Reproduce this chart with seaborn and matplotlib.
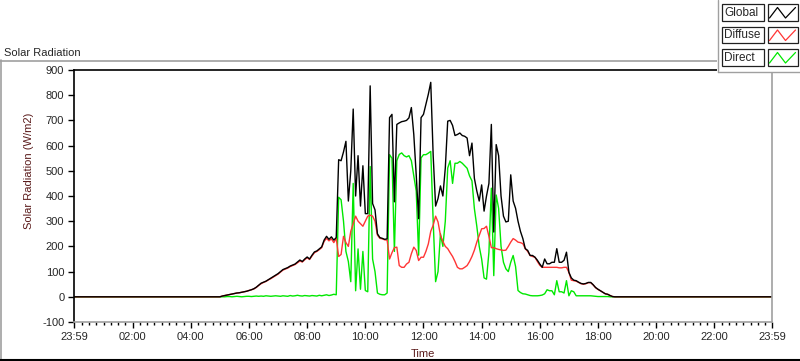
import matplotlib.pyplot as plt
import matplotlib.patches as mpatches
import matplotlib.lines as mlines
import numpy as np
import pandas as pd
import seaborn as sns

# readings every 5 min from 05:00 to 18:40 (W/m2), zero at night
global_rad = [
    0, 3, 5, 7, 9, 11, 13, 15, 16, 18, 20, 22,                      # 05
    25, 28, 32, 38, 46, 54, 58, 62, 68, 74, 80, 86,                 # 06
    92, 100, 108, 112, 116, 122, 126, 130, 138, 146, 140, 150,      # 07
    158, 150, 165, 178, 182, 190, 198, 225, 240, 228, 238, 225,     # 08
    235, 544, 540, 575, 617, 380, 500, 745, 400, 560, 360, 520,     # 09
    330, 330, 837, 370, 345, 250, 235, 232, 228, 230, 711, 724,     # 10
    377, 684, 690, 695, 697, 700, 710, 751, 644, 484, 310, 711,     # 11
    724, 764, 804, 851, 560, 360, 390, 440, 400, 511, 697, 700,     # 12
    680, 640, 644, 650, 640, 637, 630, 560, 610, 470, 420, 380,     # 13
    444, 340, 400, 450, 684, 257, 604, 560, 400, 320, 297, 300,     # 14
    484, 380, 351, 300, 260, 231, 191, 184, 164, 164, 157, 145,     # 15
    130, 117, 150, 131, 131, 137, 137, 191, 137, 137, 145, 177,     # 16
    97, 75, 66, 64, 58, 53, 51, 53, 57, 57, 48, 37,                 # 17
    30, 24, 18, 12, 10, 5, 1, 0, 0,                                 # 18
]
diffuse_rad = [
    0, 3, 5, 7, 9, 11, 13, 15, 16, 18, 20, 22,
    25, 28, 31, 37, 45, 52, 57, 61, 67, 72, 78, 84,
    90, 98, 106, 110, 114, 120, 124, 128, 135, 142, 138, 147,
    155, 148, 162, 175, 180, 187, 195, 220, 232, 222, 230, 215,
    232, 160, 168, 240, 215, 200, 260, 290, 320, 300, 290, 280,
    300, 320, 324, 320, 300, 245, 232, 230, 226, 225, 150, 175,
    195, 197, 124, 117, 117, 130, 137, 171, 197, 184, 144, 157,
    157, 180, 210, 260, 284, 320, 297, 244, 220, 200, 191, 175,
    160, 140, 117, 111, 111, 117, 124, 140, 160, 185, 217, 244,
    270, 271, 280, 240, 195, 195, 191, 188, 186, 184, 185, 200,
    217, 231, 225, 217, 215, 211, 191, 180, 164, 160, 157, 140,
    125, 117, 117, 117, 117, 117, 117, 117, 115, 115, 117, 117,
    97, 66, 64, 62, 57, 52, 50, 52, 56, 56, 47, 36,
    29, 24, 18, 12, 10, 5, 1, 0, 0,
]
direct_rad = [
    0, 0, 0, 1, 1, 0, 1, 2, 1, 0, 1, 2,
    2, 1, 2, 3, 2, 3, 2, 4, 3, 2, 3, 4,
    3, 2, 4, 3, 2, 5, 3, 4, 6, 4, 3, 5,
    4, 3, 5, 4, 3, 6, 4, 6, 8, 5, 7, 10,
    8, 395, 385, 300, 180, 140, 60, 450, 24, 190, 30, 180,
    25, 20, 517, 150, 100, 15, 10, 8, 8, 15, 564, 550,
    180, 540, 565, 571, 560, 555, 560, 540, 480, 420, 165, 551,
    564, 564, 570, 577, 300, 60, 100, 250, 200, 300, 511, 540,
    450, 530, 530, 537, 530, 520, 510, 480, 460, 350, 280, 200,
    150, 75, 70, 177, 431, 84, 404, 351, 200, 137, 111, 100,
    137, 164, 120, 25, 17, 12, 11, 8, 5, 4, 4, 4,
    5, 7, 12, 28, 24, 24, 8, 64, 20, 20, 15, 64,
    4, 24, 20, 4, 4, 4, 4, 4, 4, 4, 3, 2,
    1, 1, 1, 1, 1, 0, 0, 0, 0,
]
start_min, step_min = 300, 5

series_order = ["Direct", "Diffuse", "Global"]   # drawing order, Global on top
legend_order = ["Global", "Diffuse", "Direct"]
colors = {"Global": "#000000", "Diffuse": "#ff3535", "Direct": "#00e800"}

tick_hours = [-1 / 60, 2, 4, 6, 8, 10, 12, 14, 16, 18, 20, 22, 24 - 1 / 60]
tick_labels = ["23:59", "02:00", "04:00", "06:00", "08:00", "10:00", "12:00",
               "14:00", "16:00", "18:00", "20:00", "22:00", "23:59"]

# build long table
minutes = start_min + step_min * np.arange(len(global_rad))
hours = np.concatenate([[-1 / 60], minutes / 60, [24 - 1 / 60]])
frames = []
for name, vals in [("Global", global_rad), ("Diffuse", diffuse_rad), ("Direct", direct_rad)]:
    v = np.concatenate([[0], vals, [0]])
    frames.append(pd.DataFrame({"hour": hours, "value": v, "series": name}))
df = pd.concat(frames, ignore_index=True)

sns.set_style("white")
plt.rcParams["font.family"] = ["Liberation Sans", "DejaVu Sans"]
plt.rcParams["font.size"] = 8
plt.rcParams["axes.unicode_minus"] = False

W, H = 800, 361
fig = plt.figure(figsize=(W / 100, H / 100), dpi=100)


def fx(x):
    return x / W


def fy(y):
    return 1 - y / H


ax = fig.add_axes([fx(74), fy(322), (772 - 74) / W, (322 - 70) / H])
sns.lineplot(data=df, x="hour", y="value", hue="series", hue_order=series_order,
             palette=colors, estimator=None, linewidth=1.0, legend=False, ax=ax)

ax.set_xlim(-1 / 60, 24 - 1 / 60)
ax.set_ylim(-100, 900)
ax.set_yticks(range(-100, 901, 100))
ax.set_xticks(tick_hours)
ax.set_xticklabels(tick_labels)
minor = [h / 4 for h in range(1, 96) if h % 8 != 0]
ax.set_xticks(minor, minor=True)
ax.tick_params(axis="both", which="major", direction="out", length=4, width=1,
               color="black", labelsize=8, left=True, bottom=True)
ax.tick_params(axis="x", which="major", pad=3.5)
ax.tick_params(axis="y", which="major", pad=3)
ax.tick_params(axis="x", which="minor", direction="out", length=2.5, width=1,
               color="black", bottom=True)

for side in ["left", "top"]:
    ax.spines[side].set_color("black")
    ax.spines[side].set_linewidth(1.2)
for side in ["right", "bottom"]:
    ax.spines[side].set_color("#a0a0a0")
    ax.spines[side].set_linewidth(1.2)

ax.set_xlabel("Time", color="#5a1a1a", fontsize=8, labelpad=5)
ax.set_ylabel("Solar Radiation (W/m2)", color="#5a1a1a", fontsize=8)
ax.yaxis.set_label_coords(-0.058, 0.6)

# outer panel frame and title
fig.add_artist(mlines.Line2D([fx(0.5), fx(0.5)], [fy(60), fy(360)], color="#a0a0a0", lw=1.2))
fig.add_artist(mlines.Line2D([fx(0), fx(717)], [fy(60.5), fy(60.5)], color="#a0a0a0", lw=1.2))
fig.add_artist(mlines.Line2D([fx(0), fx(800)], [fy(360), fy(360)], color="black", lw=1.5))
fig.text(fx(4), fy(55.5), "Solar Radiation", fontsize=8, ha="left", va="baseline")

# legend panel
fig.add_artist(mpatches.Rectangle((fx(717), fy(71.5)), fx(83), 71.5 / H,
                                  transform=fig.transFigure, facecolor="white",
                                  edgecolor="none", zorder=5))
fig.add_artist(mlines.Line2D([fx(717.5), fx(717.5)], [fy(0), fy(71.5)], color="#a0a0a0", lw=1, zorder=6))
fig.add_artist(mlines.Line2D([fx(717.5), fx(800)], [fy(71.5), fy(71.5)], color="#a0a0a0", lw=1, zorder=6))
for i, name in enumerate(legend_order):
    top = 4.5 + i * 22.5
    fig.add_artist(mpatches.Rectangle((fx(721.5), fy(top + 16)), 42 / W, 16 / H,
                                      transform=fig.transFigure, facecolor="white",
                                      edgecolor="#202020", lw=0.9, zorder=7))
    fig.text(fx(724), fy(top + 8.5), name, fontsize=8.5, ha="left", va="center", zorder=8)
    fig.add_artist(mpatches.Rectangle((fx(767.5), fy(top + 16)), 30 / W, 16 / H,
                                      transform=fig.transFigure, facecolor="white",
                                      edgecolor="#202020", lw=0.9, zorder=7))
    zx = [769.5, 777.5, 785.5, 795.5]
    zy = [top + 13.5, top + 3, top + 13.5, top + 3]
    fig.add_artist(mlines.Line2D([fx(v) for v in zx], [fy(v) for v in zy],
                                 color=colors[name], lw=0.9, zorder=8))

fig.savefig("out.png", dpi=100)
